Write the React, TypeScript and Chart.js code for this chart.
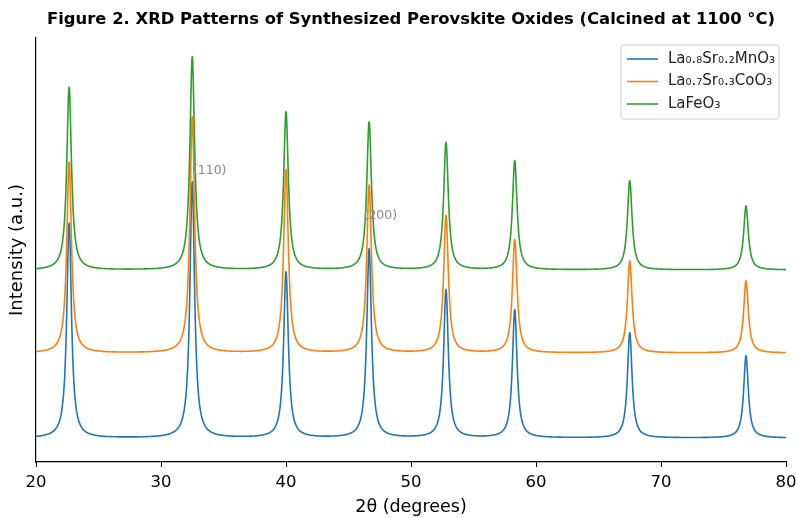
import React, { useEffect, useRef } from "react";
import { Chart, registerables } from "chart.js";

Chart.register(...registerables);

// ---- data ----
const seriesLabels = ["La₀.₈Sr₀.₂MnO₃", "La₀.₇Sr₀.₃CoO₃", "LaFeO₃"];
const seriesColors = ["#1f77b4", "#ff7f0e", "#2ca02c"];
const seriesOffsets = [6, 27.25, 48];
const peakPositions = [22.65, 32.5, 40.0, 46.65, 52.8, 58.3, 67.5, 76.8];
const peakWidths = [0.45, 0.45, 0.45, 0.45, 0.45, 0.45, 0.45, 0.45];
const peaksLSMO = [53.8, 64, 41.5, 47.3, 37, 32, 26.3, 20.5];
const peaksLSCO = [47.8, 59, 45.8, 42, 34.3, 28.3, 23, 18];
const peaksLFO = [45.8, 53.3, 39.5, 37, 31.8, 27.3, 22.3, 16];
const xTicks = [20, 30, 40, 50, 60, 70, 80];
const annotationLabels = ["(110)", "(200)"];
const annotationX = [32.55, 46.2];
const annotationY = [72.75, 61.5];

const TITLE = "Figure 2. XRD Patterns of Synthesized Perovskite Oxides (Calcined at 1100 °C)";
const FONT = "'DejaVu Sans', sans-serif";

function buildPattern(offset: number, heights: number[]) {
  const pts: { x: number; y: number }[] = [];
  const n = 3000;
  for (let k = 0; k <= n; k++) {
    const x = xTicks[0] + ((xTicks[xTicks.length - 1] - xTicks[0]) * k) / n;
    let y = offset;
    for (let i = 0; i < peakPositions.length; i++) {
      const g = peakWidths[i] / 2;
      const d = x - peakPositions[i];
      y += (heights[i] * g * g) / (d * d + g * g);
    }
    pts.push({ x, y });
  }
  return pts;
}

const decorPlugin = {
  id: "decor",
  afterDatasetsDraw(chart: any) {
    const { ctx, scales } = chart;
    ctx.save();
    ctx.fillStyle = "#8a8a8a";
    ctx.font = `12.5px ${FONT}`;
    ctx.textBaseline = "middle";
    ctx.textAlign = "left";
    annotationLabels.forEach((t, i) => {
      ctx.fillText(t, scales.x.getPixelForValue(annotationX[i]), scales.y.getPixelForValue(annotationY[i]));
    });
    ctx.restore();
  },
  afterDraw(chart: any) {
    const { ctx, chartArea } = chart;
    ctx.save();
    // title
    ctx.fillStyle = "#000";
    ctx.font = `bold 16.4px ${FONT}`;
    ctx.textAlign = "center";
    ctx.textBaseline = "middle";
    ctx.fillText(TITLE, (chartArea.left + chartArea.right) / 2, 20);

    // legend
    const bx = 621, by = 45, bw = 158, bh = 74;
    ctx.beginPath();
    const r = 3;
    ctx.moveTo(bx + r, by);
    ctx.arcTo(bx + bw, by, bx + bw, by + bh, r);
    ctx.arcTo(bx + bw, by + bh, bx, by + bh, r);
    ctx.arcTo(bx, by + bh, bx, by, r);
    ctx.arcTo(bx, by, bx + bw, by, r);
    ctx.closePath();
    ctx.fillStyle = "rgba(255,255,255,0.8)";
    ctx.fill();
    ctx.strokeStyle = "#d0d0d0";
    ctx.lineWidth = 1;
    ctx.stroke();
    ctx.font = `15px ${FONT}`;
    ctx.textAlign = "left";
    ctx.textBaseline = "middle";
    seriesLabels.forEach((lab, i) => {
      const y = 59 + i * 22.5;
      ctx.strokeStyle = seriesColors[i];
      ctx.lineWidth = 1.6;
      ctx.beginPath();
      ctx.moveTo(627, y);
      ctx.lineTo(658, y);
      ctx.stroke();
      ctx.fillStyle = "#222";
      ctx.fillText(lab, 668, y);
    });
    ctx.restore();
  },
};

export default function App() {
  const ref = useRef<HTMLCanvasElement | null>(null);
  useEffect(() => {
    document.body.style.margin = "0";
    const canvas = ref.current!;
    const allHeights = [peaksLSMO, peaksLSCO, peaksLFO];
    const chart = new Chart(canvas, {
      type: "line",
      data: {
        datasets: seriesLabels.map((label, i) => ({
          label,
          data: buildPattern(seriesOffsets[i], allHeights[i]),
          borderColor: seriesColors[i],
          backgroundColor: seriesColors[i],
          borderWidth: 1.6,
          pointRadius: 0,
          cubicInterpolationMode: "monotone",
          fill: false,
          order: 3 - i,
        })),
      },
      options: {
        animation: false,
        responsive: false,
        devicePixelRatio: 1,
        parsing: false,
        layout: { padding: { top: 38, right: 10, left: 0, bottom: 0 } },
        plugins: {
          legend: { display: false },
          tooltip: { enabled: false },
          title: { display: false },
        },
        scales: {
          x: {
            type: "linear",
            min: 20,
            max: 80,
            afterBuildTicks: (s: any) => {
              s.ticks = xTicks.map((v) => ({ value: v }));
            },
            ticks: { font: { family: FONT, size: 16.5 }, color: "#000", padding: 6, maxRotation: 0 },
            grid: { drawOnChartArea: false, drawTicks: true, tickLength: 5, color: "#000", lineWidth: 1 },
            border: { display: true, color: "#000", width: 1.2 },
            title: {
              display: true,
              text: "2θ (degrees)",
              font: { family: FONT, size: 17.5 },
              color: "#000",
              padding: { top: 0, bottom: 0 },
            },
            afterFit: (s: any) => {
              s.height = 56;
              s.paddingLeft = 0;
              s.paddingRight = 0;
            },
          },
          y: {
            min: 0,
            max: 106,
            ticks: { display: false },
            grid: { display: false },
            border: { display: true, color: "#000", width: 1.2 },
            title: {
              display: true,
              text: "Intensity (a.u.)",
              font: { family: FONT, size: 18 },
              color: "#000",
              padding: { top: 7, bottom: 0 },
            },
            afterFit: (s: any) => {
              s.width = 36;
              s.paddingTop = 0;
              s.paddingBottom = 0;
            },
          },
        },
      },
      plugins: [decorPlugin],
    } as any);
    return () => chart.destroy();
  }, []);
  return <canvas ref={ref} width={796} height={518} style={{ display: "block", width: 796, height: 518 }} />;
}
